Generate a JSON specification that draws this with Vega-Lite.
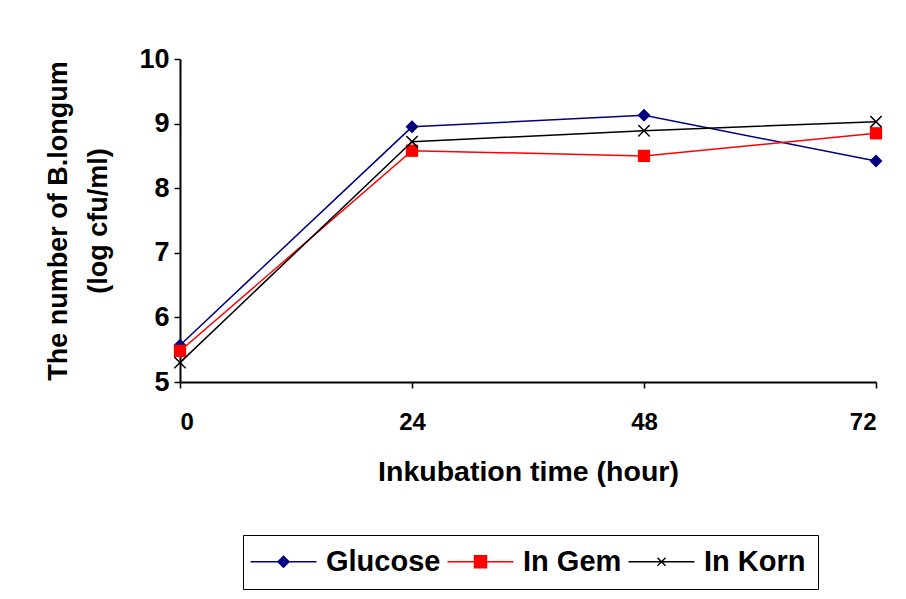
{
  "$schema": "https://vega.github.io/schema/vega-lite/v6.json",
  "autosize": {"type": "none"},
  "width": 696,
  "height": 323,
  "padding": {"left": 180, "top": 59, "right": 30, "bottom": 217},
  "background": "white",
  "config": {
    "view": {"stroke": null},
    "font": "Liberation Sans"
  },
  "data": {
    "values": [
      {"time": 0, "series": "Glucose", "value": 5.57},
      {"time": 24, "series": "Glucose", "value": 8.95},
      {"time": 48, "series": "Glucose", "value": 9.13},
      {"time": 72, "series": "Glucose", "value": 8.42},
      {"time": 0, "series": "In Gem", "value": 5.48},
      {"time": 24, "series": "In Gem", "value": 8.58},
      {"time": 48, "series": "In Gem", "value": 8.5},
      {"time": 72, "series": "In Gem", "value": 8.85},
      {"time": 0, "series": "In Korn", "value": 5.3},
      {"time": 24, "series": "In Korn", "value": 8.72},
      {"time": 48, "series": "In Korn", "value": 8.89},
      {"time": 72, "series": "In Korn", "value": 9.03}
    ]
  },
  "encoding": {
    "x": {
      "field": "time", "type": "quantitative",
      "scale": {"domain": [0, 72], "nice": false, "zero": false},
      "axis": {
        "title": "Inkubation time (hour)",
        "values": [0, 24, 48, 72],
        "grid": false,
        "domainColor": "black", "domainWidth": 2,
        "tickColor": "black", "tickWidth": 1.5, "tickSize": 6,
        "labelFontSize": 24, "labelFontWeight": "bold", "labelColor": "black",
        "labelPadding": 22,
        "titleFontSize": 28.5, "titleFontWeight": "bold", "titleColor": "black",
        "titlePadding": 23
      }
    },
    "y": {
      "field": "value", "type": "quantitative",
      "scale": {"domain": [5, 10], "nice": false, "zero": false},
      "axis": {
        "title": ["The number of B.longum", "(log cfu/ml)"],
        "values": [5, 6, 7, 8, 9, 10],
        "grid": false,
        "domainColor": "black", "domainWidth": 2,
        "tickColor": "black", "tickWidth": 1.5, "tickSize": 6,
        "labelFontSize": 27, "labelFontWeight": "bold", "labelColor": "black",
        "labelPadding": 5,
        "titleFontSize": 27, "titleFontWeight": "bold", "titleColor": "black",
        "titleLineHeight": 40,
        "titlePadding": 26
      }
    },
    "color": {
      "field": "series", "type": "nominal",
      "scale": {"domain": ["Glucose", "In Gem", "In Korn"], "range": ["#000080", "#ff0000", "#000000"]},
      "legend": {
        "title": null,
        "orient": "none",
        "legendX": 63,
        "legendY": 476,
        "direction": "horizontal",
        "strokeColor": "black",
        "padding": 12,
        "symbolType": "M-1.9,0H4.7",
        "symbolSize": 400,
        "symbolStrokeWidth": 1.5,
        "labelFontSize": 29,
        "labelFontWeight": "bold",
        "labelColor": "black",
        "labelOffset": 42,
        "columnPadding": 3,
        "encode": {
          "symbols": {
            "update": {
              "shape": {"signal": "datum.value === 'Glucose' ? 'M-1.9,0H4.7M1.4,-0.55L1.95,0L1.4,0.55L0.85,0Z' : datum.value === 'In Gem' ? 'M-1.9,0H4.7M0.8,-0.6H2V0.6H0.8Z' : 'M-1.9,0H4.7M1,-0.4L1.8,0.4M1,0.4L1.8,-0.4'"},
              "fill": {"signal": "scale('color', datum.value)"},
              "stroke": {"signal": "scale('color', datum.value)"}
            }
          }
        }
      }
    }
  },
  "layer": [
    {
      "mark": {"type": "line", "strokeWidth": 1.5}
    },
    {
      "transform": [{"filter": "datum.series === 'Glucose'"}],
      "mark": {"type": "point", "shape": "diamond", "filled": true, "size": 170, "opacity": 1}
    },
    {
      "transform": [{"filter": "datum.series === 'In Gem'"}],
      "mark": {"type": "point", "shape": "square", "filled": true, "size": 150, "opacity": 1}
    },
    {
      "transform": [{"filter": "datum.series === 'In Korn'"}],
      "mark": {"type": "point", "shape": "M-1,-1L1,1M-1,1L1,-1", "filled": false, "size": 130, "strokeWidth": 1.5, "opacity": 1}
    }
  ]
}
